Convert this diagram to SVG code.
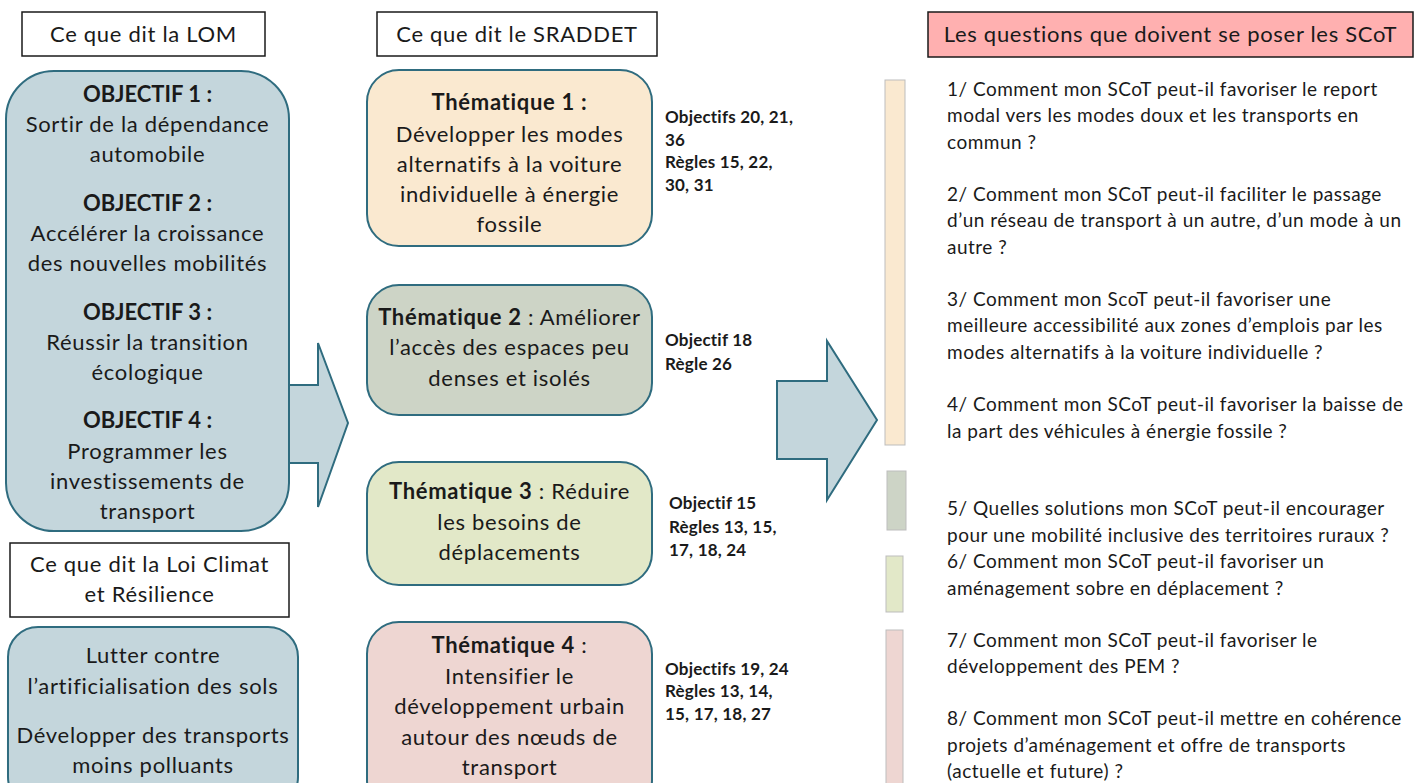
<svg xmlns="http://www.w3.org/2000/svg" width="1422" height="783" viewBox="0 0 1422 783">
<style>
text{font-family:Lato,"Liberation Sans",sans-serif;fill:#1a1a1a}
.t{font-size:22px;text-anchor:middle;letter-spacing:0.7px}
.b{font-weight:bold}
.o{letter-spacing:0}
.s{font-size:17px;font-weight:bold;letter-spacing:0.2px}
.q{font-size:19px;letter-spacing:0.5px}
.hdr{fill:#ffffff;stroke:#1a1a1a;stroke-width:1.5}
.blue{fill:#c4d6dc;stroke:#2f6c7f;stroke-width:2}
.th{stroke:#2f6c7f;stroke-width:2}
.bar{stroke:#bdbdbd;stroke-width:1}
</style>
<rect width="1422" height="783" fill="#ffffff"/>
<g id="connectors">
<polygon class="blue" points="280,385 318,385 318,343 348,423 318,507 318,463 280,463"/>
<polygon class="blue" points="777,381 827,381 827,341 877,420 827,500 827,459 777,459"/>
</g>
<g id="lom-header">
<rect class="hdr" x="22" y="12" width="243" height="44"/>
<text class="t" x="143.5" y="42">Ce que dit la LOM</text>
</g>
<g id="lom-objectifs">
<rect class="blue" x="6" y="71" width="283" height="460" rx="48"/>
<text class="t b o" x="147.5" y="102">OBJECTIF 1 :</text>
<text class="t" x="147.5" y="132">Sortir de la dépendance</text>
<text class="t" x="147.5" y="162">automobile</text>
<text class="t b o" x="147.5" y="211">OBJECTIF 2 :</text>
<text class="t" x="147.5" y="241">Accélérer la croissance</text>
<text class="t" x="147.5" y="271">des nouvelles mobilités</text>
<text class="t b o" x="147.5" y="320">OBJECTIF 3 :</text>
<text class="t" x="147.5" y="350">Réussir la transition</text>
<text class="t" x="147.5" y="380">écologique</text>
<text class="t b o" x="147.5" y="428">OBJECTIF 4 :</text>
<text class="t" x="147.5" y="459">Programmer les</text>
<text class="t" x="147.5" y="489">investissements de</text>
<text class="t" x="147.5" y="519">transport</text>
</g>
<g id="loi-header">
<rect class="hdr" x="10" y="543" width="279" height="74"/>
<text class="t" x="149.5" y="572">Ce que dit la Loi Climat</text>
<text class="t" x="149.5" y="602">et Résilience</text>
</g>
<g id="loi-objectifs">
<rect class="blue" x="8" y="627" width="290" height="180" rx="30"/>
<text class="t" x="153" y="663">Lutter contre</text>
<text class="t" x="153" y="694">l’artificialisation des sols</text>
<text class="t" x="153" y="743">Développer des transports</text>
<text class="t" x="153" y="773">moins polluants</text>
</g>
<g id="sraddet-header">
<rect class="hdr" x="377" y="12" width="280" height="44"/>
<text class="t" x="517" y="42">Ce que dit le SRADDET</text>
</g>
<g id="thematique-1">
<rect class="th" x="367" y="70" width="285" height="176" rx="32" fill="#fae9d0"/>
<text class="t b" x="509.5" y="110">Thématique 1 :</text>
<text class="t" x="509.5" y="142">Développer les modes</text>
<text class="t" x="509.5" y="172">alternatifs à la voiture</text>
<text class="t" x="509.5" y="202">individuelle à énergie</text>
<text class="t" x="509.5" y="232">fossile</text>
<text class="s" x="665" y="123">Objectifs 20, 21,</text>
<text class="s" x="665" y="146">36</text>
<text class="s" x="665" y="168">Règles 15, 22,</text>
<text class="s" x="665" y="191">30, 31</text>
</g>
<g id="thematique-2">
<rect class="th" x="367" y="285" width="285" height="130" rx="32" fill="#cdd4c6"/>
<text class="t" x="509.5" y="325"><tspan class="b">Thématique 2</tspan> : Améliorer</text>
<text class="t" x="509.5" y="355">l’accès des espaces peu</text>
<text class="t" x="509.5" y="386">denses et isolés</text>
<text class="s" x="665" y="346">Objectif 18</text>
<text class="s" x="665" y="370">Règle 26</text>
</g>
<g id="thematique-3">
<rect class="th" x="367" y="462" width="285" height="123" rx="32" fill="#e2e8c8"/>
<text class="t" x="509.5" y="499"><tspan class="b">Thématique 3</tspan> : Réduire</text>
<text class="t" x="509.5" y="530">les besoins de</text>
<text class="t" x="509.5" y="560">déplacements</text>
<text class="s" x="669" y="509">Objectif 15</text>
<text class="s" x="669" y="533">Règles 13, 15,</text>
<text class="s" x="669" y="556">17, 18, 24</text>
</g>
<g id="thematique-4">
<rect class="th" x="367" y="622" width="285" height="190" rx="32" fill="#eed6d2"/>
<text class="t" x="509.5" y="653"><tspan class="b">Thématique 4</tspan> :</text>
<text class="t" x="509.5" y="684">Intensifier le</text>
<text class="t" x="509.5" y="714">développement urbain</text>
<text class="t" x="509.5" y="745">autour des nœuds de</text>
<text class="t" x="509.5" y="775">transport</text>
<text class="s" x="665" y="675">Objectifs 19, 24</text>
<text class="s" x="665" y="697">Règles 13, 14,</text>
<text class="s" x="665" y="720">15, 17, 18, 27</text>
</g>
<g id="scot-header">
<rect x="928" y="12" width="485" height="45" fill="#ffb0b0" stroke="#1a1a1a" stroke-width="1.5"/>
<text class="t" x="1170.5" y="42">Les questions que doivent se poser les SCoT</text>
</g>
<g id="bars">
<rect class="bar" x="885" y="80" width="20" height="365" fill="#fae9d0"/>
<rect class="bar" x="887" y="471" width="19" height="59" fill="#cdd4c6"/>
<rect class="bar" x="886" y="556" width="17" height="56" fill="#e2e8c8"/>
<rect class="bar" x="886" y="630" width="17" height="170" fill="#eed6d2"/>
</g>
<g id="questions">
<text class="q" x="947" y="96">1/ Comment mon SCoT peut-il favoriser le report</text>
<text class="q" x="947" y="122">modal vers les modes doux et les transports en</text>
<text class="q" x="947" y="149">commun ?</text>
<text class="q" x="947" y="201">2/ Comment mon SCoT peut-il faciliter le passage</text>
<text class="q" x="947" y="227">d’un réseau de transport à un autre, d’un mode à un</text>
<text class="q" x="947" y="254">autre ?</text>
<text class="q" x="947" y="306">3/ Comment mon ScoT peut-il favoriser une</text>
<text class="q" x="947" y="332">meilleure accessibilité aux zones d’emplois par les</text>
<text class="q" x="947" y="359">modes alternatifs à la voiture individuelle ?</text>
<text class="q" x="947" y="411">4/ Comment mon SCoT peut-il favoriser la baisse de</text>
<text class="q" x="947" y="438">la part des véhicules à énergie fossile ?</text>
<text class="q" x="947" y="515">5/ Quelles solutions mon SCoT peut-il encourager</text>
<text class="q" x="947" y="542">pour une mobilité inclusive des territoires ruraux ?</text>
<text class="q" x="947" y="568">6/ Comment mon SCoT peut-il favoriser un</text>
<text class="q" x="947" y="595">aménagement sobre en déplacement ?</text>
<text class="q" x="947" y="647">7/ Comment mon SCoT peut-il favoriser le</text>
<text class="q" x="947" y="673">développement des PEM ?</text>
<text class="q" x="947" y="725">8/ Comment mon SCoT peut-il mettre en cohérence</text>
<text class="q" x="947" y="752">projets d’aménagement et offre de transports</text>
<text class="q" x="947" y="778">(actuelle et future) ?</text>
</g>
</svg>
